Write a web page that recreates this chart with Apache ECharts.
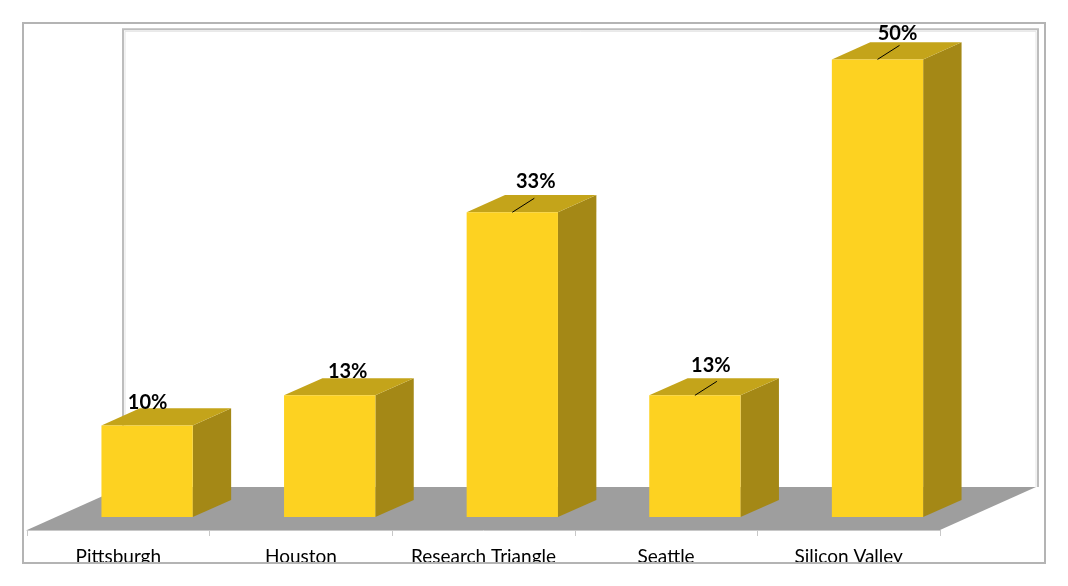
<!DOCTYPE html>
<html>
<head>
<meta charset="utf-8">
<script src="https://cdn.jsdelivr.net/npm/echarts@6/dist/echarts.min.js"></script>
<style>
  html, body { margin: 0; padding: 0; background: #ffffff; }
  #chart { width: 1068px; height: 586px; }
</style>
</head>
<body>
<div id="chart"></div>
<script>
// ---- data ----
const categories = ['Pittsburgh', 'Houston', 'Research Triangle', 'Seattle', 'Silicon Valley'];
const shares = [10, 13.3, 33.3, 13.3, 50];           // percent
const valueMin = 0;
const valueMax = 50;

// ---- style constants ----
const DEPTH = [96, -43];          // full floor depth vector (px)
const BAR_FRONT = 0.3, BAR_BACK = 0.7;  // bar depth slice
const BAR_WIDTH_FRAC = 0.5;
const C_FRONT = '#FDD221', C_TOP = '#C4A41A', C_SIDE = '#A48816';
const C_FLOOR = '#9E9E9E', C_WALL = '#BDBDBD';
// label offsets from front-top centre of each bar, and leader flags
const labelNudge = [[0.5, -23], [18, -24], [23.5, -31], [16, -30], [20, -26]];
const leader = [false, false, true, true, true];

const chart = echarts.init(document.getElementById('chart'), null, { renderer: 'canvas' });

function floorRender(params, api) {
  const bw = api.size([1, 0])[0];
  const p0 = api.coord([0, valueMin]);
  const p1 = api.coord([categories.length - 1, valueMin]);
  const top = api.coord([0, valueMax]);
  const xl = p0[0] - bw / 2, xr = p1[0] + bw / 2, yb = p0[1];
  const dx = DEPTH[0], dy = DEPTH[1];
  return {
    type: 'group',
    children: [
      { type: 'polygon', shape: { points: [[xl, yb], [xl + dx, yb + dy], [xr + dx, yb + dy], [xr, yb]] },
        style: { fill: C_FLOOR, stroke: null } },
      { type: 'polyline', shape: { points: [[xl + dx, yb + dy], [xl + dx, top[1] + dy], [xr + dx + 2, top[1] + dy], [xr + dx + 2, yb + dy]] },
        style: { fill: null, stroke: C_WALL, lineWidth: 2 } },
      { type: 'polyline', shape: { points: [[xl + dx + 2, yb + dy], [xl + dx + 2, top[1] + dy + 2], [xr + dx, top[1] + dy + 2], [xr + dx, yb + dy]] },
        style: { fill: null, stroke: '#E4E4E4', lineWidth: 1 } }
    ]
  };
}

function barRender(params, api) {
  const i = api.value(0);
  const v = api.value(1);
  const bw = api.size([1, 0])[0] * BAR_WIDTH_FRAC;
  const base = api.coord([i, valueMin]);
  const tip = api.coord([i, v]);
  const fx = DEPTH[0] * BAR_FRONT, fy = DEPTH[1] * BAR_FRONT;
  const bx = DEPTH[0] * (BAR_BACK - BAR_FRONT), by = DEPTH[1] * (BAR_BACK - BAR_FRONT);
  const x0 = base[0] - bw / 2 + fx, x1 = base[0] + bw / 2 + fx;
  const yb = base[1] + fy, yt = tip[1] + fy;
  const cx = (x0 + x1) / 2;
  const nud = labelNudge[i];
  const children = [
    { type: 'polygon', shape: { points: [[x1, yb], [x1 + bx, yb + by], [x1 + bx, yt + by], [x1, yt]] },
      style: { fill: C_SIDE } },
    { type: 'polygon', shape: { points: [[x0, yt], [x0 + bx, yt + by], [x1 + bx, yt + by], [x1, yt]] },
      style: { fill: C_TOP } },
    { type: 'rect', shape: { x: x0, y: yt, width: x1 - x0, height: yb - yt },
      style: { fill: C_FRONT } },
    { type: 'text', x: cx + nud[0], y: yt + nud[1],
      style: { text: Math.round(v) + '%', fill: '#000', font: 'bold 20px Lato, "Open Sans", sans-serif',
               align: 'center', verticalAlign: 'middle' } }
  ];
  if (leader[i]) {
    children.push({ type: 'line', shape: { x1: cx, y1: yt, x2: cx + 22, y2: yt - 14 },
      style: { stroke: '#000', lineWidth: 1 } });
  }
  return { type: 'group', children };
}

const option = {
  backgroundColor: '#ffffff',
  animation: false,
  grid: { left: 27, right: 128, top: 72.3, bottom: 56, containLabel: false },
  xAxis: {
    type: 'category',
    data: categories,
    boundaryGap: true,
    axisLine: { show: true, lineStyle: { color: '#C8C8C8', width: 1 } },
    axisTick: { show: true, length: 6, lineStyle: { color: '#C8C8C8' } },
    axisLabel: { color: '#000', fontSize: 19, fontFamily: 'Lato, "Open Sans", sans-serif', margin: 17, interval: 0 },
    splitLine: { show: false },
    z: 1
  },
  yAxis: {
    type: 'value', min: valueMin, max: valueMax, show: false
  },
  series: [
    { type: 'custom', renderItem: floorRender, data: [[0]], z: 0, silent: true, clip: false },
    { type: 'custom', renderItem: barRender, data: shares.map((v, i) => [i, v]), encode: { x: 0, y: 1 }, z: 3, clip: false }
  ],
  graphic: [
    { type: 'rect', z: 100, shape: { x: 0, y: 563.5, width: 1068, height: 30 }, style: { fill: '#fff' } },
    { type: 'rect', z: 101, shape: { x: 23, y: 23, width: 1022, height: 540 },
      style: { fill: null, stroke: '#B4B4B4', lineWidth: 2 } }
  ]
};
chart.setOption(option);
</script>
</body>
</html>
